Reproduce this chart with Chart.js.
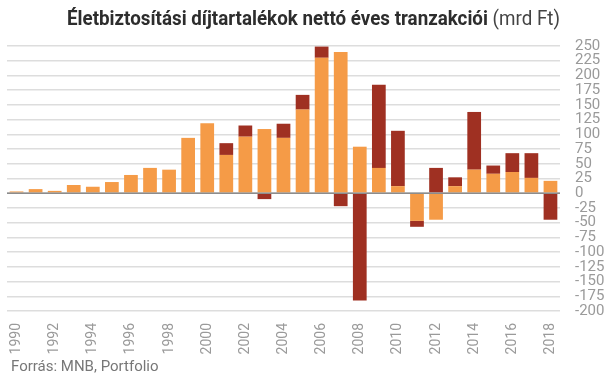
<!DOCTYPE html>
<html>
<head>
<meta charset="utf-8">
<script src="https://cdn.jsdelivr.net/npm/chart.js@4.4.1/dist/chart.umd.min.js"></script>
<style>
  html, body { margin: 0; padding: 0; background: #fff; }
  #wrap { position: relative; width: 605px; height: 378px; overflow: hidden; }
  #chart { position: absolute; left: 0; top: 0; }
  #title { position: absolute; top: 7px; left: 67px; white-space: nowrap; font-family: Roboto, sans-serif; font-size: 20px; line-height: 22px; color: #2d2d2d; transform-origin: 0 0; }
  #title b { font-weight: 700; }
  #title span { font-weight: 400; color: #444; }
  #source { position: absolute; left: 11px; top: 358px; font-family: Roboto, sans-serif; font-size: 15px; line-height: 16px; color: #777; }
</style>
</head>
<body>
<div id="wrap">
  <canvas id="chart" width="605" height="378"></canvas>
  <div id="title"><b>Életbiztosítási díjtartalékok nettó éves tranzakciói</b> <span>(mrd Ft)</span></div>
  <div id="source">Forrás: MNB, Portfolio</div>
</div>
<script>
const years = ['1990','1991','1992','1993','1994','1995','1996','1997','1998','1999',
  '2000','2001','2002','2003','2004','2005','2006','2007','2008','2009',
  '2010','2011','2012','2013','2014','2015','2016','2017','2018'];
const seriesOrange = [3, 7, 4, 14, 11, 19, 31, 43, 40, 94,
  119, 65, 96, 109, 94, 142, 230, 240, 79, 43,
  12, -47, -45, 12, 40, 33, 36, 26, 21];
const seriesDark = [0, 0, 0, 0, 0, 0, 0, 0, 0, 0,
  0, 20, 19, -10, 24, 25, 19, -22, -182, 141,
  94, -10, 43, 15, 98, 14, 32, 42, -45];
const yTicks = [250, 225, 200, 175, 150, 125, 100, 75, 50, 25, 0, -25, -50, -75, -100, -125, -150, -175, -200];

// fit title to reference width
(function(){
  const t = document.getElementById('title');
  const w = t.getBoundingClientRect().width;
  const target = 493;
  if (w > 0) t.style.transform = 'scaleX(' + (target / w) + ')';
})();

const zeroLine = {
  id: 'zeroLine',
  afterDatasetsDraw(chart) {
    const y = chart.scales.y.getPixelForValue(0);
    const ctx = chart.ctx;
    ctx.save();
    ctx.strokeStyle = '#8c8c8c';
    ctx.lineWidth = 1.5;
    ctx.beginPath();
    ctx.moveTo(chart.chartArea.left, y);
    ctx.lineTo(chart.chartArea.right, y);
    ctx.stroke();
    ctx.restore();
  }
};

new Chart(document.getElementById('chart'), {
  type: 'bar',
  data: {
    labels: years,
    datasets: [
      { data: seriesOrange, backgroundColor: '#F59B47', borderWidth: 0, barPercentage: 0.72, categoryPercentage: 1 },
      { data: seriesDark, backgroundColor: '#9F3022', borderWidth: 0, barPercentage: 0.72, categoryPercentage: 1 }
    ]
  },
  options: {
    responsive: false,
    animation: false,
    layout: { padding: { left: 7, right: 0, top: 46, bottom: 0 } },
    plugins: { legend: { display: false }, tooltip: { enabled: false }, title: { display: false } },
    scales: {
      x: {
        stacked: true,
        grid: { display: false, drawTicks: false },
        border: { display: false },
        afterFit: function(scale) { scale.height = 67; },
        ticks: {
          autoSkip: false,
          maxRotation: 90,
          minRotation: 90,
          padding: 12,
          color: '#9a9a9a',
          font: { family: 'Roboto', size: 14 },
          callback: function(v, i) { return i % 2 === 0 ? years[i] : ''; }
        }
      },
      y: {
        stacked: true,
        position: 'right',
        min: -200,
        max: 250,
        afterBuildTicks: function(scale) { scale.ticks = yTicks.map(v => ({ value: v })); },
        afterFit: function(scale) { scale.width = 45; },
        grid: {
          color: '#dddddd',
          lineWidth: 1.5,
          drawTicks: false
        },
        border: { display: false },
        ticks: {
          autoSkip: false,
          padding: 15,
          color: '#9a9a9a',
          font: { family: 'Roboto', size: 15 },
          callback: function(v) { return v; }
        }
      }
    }
  },
  plugins: [zeroLine]
});
</script>
</body>
</html>
